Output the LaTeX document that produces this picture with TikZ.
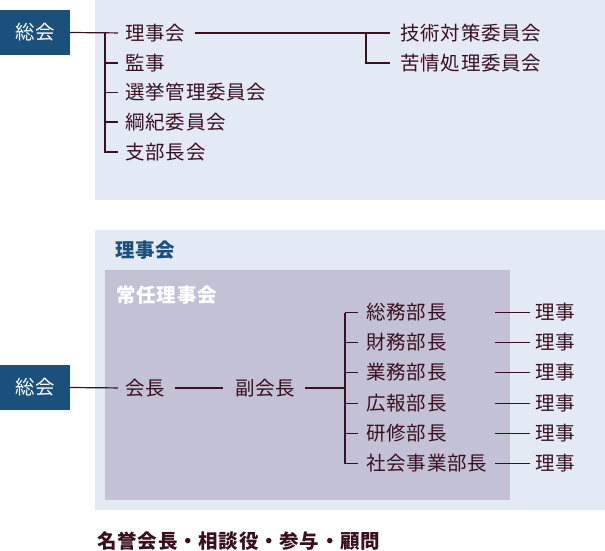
\documentclass[tikz,border=0pt]{standalone}
\usepackage{fontspec}
\setmainfont{Noto Sans CJK JP}[LetterSpace=4]
\definecolor{paneblue}{HTML}{E3EAF6}
\definecolor{panegray}{HTML}{C3C1D6}
\definecolor{boxblue}{HTML}{1B4F7C}
\definecolor{ink}{HTML}{3A1020}
\begin{document}
\begin{tikzpicture}[x=1pt,y=-1pt,
  lbl/.style={anchor=west,inner sep=0pt,text=ink,font=\fontsize{19.5}{22}\selectfont},
  hdr/.style={anchor=west,inner sep=0pt,font=\fontsize{19.5}{22}\selectfont\bfseries},
  sbox/.style={fill=boxblue,text=white,minimum width=70pt,minimum height=45pt,inner sep=0pt,font=\fontsize{19.5}{22}\selectfont},
  ln/.style={draw=ink,line width=1.2pt}]
\useasboundingbox (0,0) rectangle (605,551);
% panels
\fill[paneblue] (95,0) rectangle (605,200);
\fill[paneblue] (95,230) rectangle (605,510);
\fill[panegray] (105,270) rectangle (510,500);
% top diagram
\node[sbox] (s1) at (35,32.5) {総会};
\node[lbl] (a1) at (125,33) {理事会};
\node[lbl] (a2) at (125,63) {監事};
\node[lbl] (a3) at (125,92.5) {選挙管理委員会};
\node[lbl] (a4) at (125,122) {綱紀委員会};
\node[lbl] (a5) at (125,152) {支部長会};
\node[lbl] (b1) at (400,33) {技術対策委員会};
\node[lbl] (b2) at (400,63) {苦情処理委員会};
\coordinate (v1) at (105,33);
\draw[ln,shorten >=7pt] (s1.east) -- (a1.west);
\draw[ln,shorten >=7pt] (v1) |- (a5.west);
\foreach \n in {a2,a3,a4} \draw[ln,shorten >=7pt] (v1 |- \n.west) -- (\n.west);
\coordinate (v2) at (366,33);
\draw[ln,shorten <=10pt,shorten >=10pt] (a1.east) -- (b1.west);
\draw[ln,shorten >=10pt] (v2) |- (b2.west);
% bottom diagram
\node[hdr,text=boxblue] (h1) at (115,250) {理事会};
\node[hdr,text=white] (h2) at (116,295) {常任理事会};
\node[sbox] (s2) at (35,387.5) {総会};
\node[lbl] (c1) at (125,388) {会長};
\node[lbl] (c2) at (235,388) {副会長};
\draw[ln,shorten >=7pt] (s2.east) -- (c1.west);
\draw[ln,shorten <=10pt,shorten >=12pt] (c1.east) -- (c2.west);
\coordinate (v3) at (345,388);
\draw[ln,shorten <=10pt] (c2.east) -- (v3);
\node[lbl] (d1) at (366,312.5) {総務部長};
\node[lbl] (d2) at (366,342.5) {財務部長};
\node[lbl] (d3) at (366,372.5) {業務部長};
\node[lbl] (d4) at (366,403.5) {広報部長};
\node[lbl] (d5) at (366,433.5) {研修部長};
\node[lbl] (d6) at (366,463.5) {社会事業部長};
\coordinate (vt) at (345,312.5);
\coordinate (vb) at (345,463.5);
\draw[ln,shorten >=8pt] (vt) -- (vb) -- (d6.west);
\draw[ln,shorten >=8pt] (vt) -- (d1.west);
\foreach \n in {d2,d3,d4,d5} \draw[ln,shorten >=8pt] (vt |- \n.west) -- (\n.west);
\foreach \i/\y in {1/312.5,2/342.5,3/372.5,4/403.5,5/433.5,6/463.5}{
  \node[lbl] (e\i) at (535,\y) {理事};
  \coordinate (r\i) at (495,\y);
  \draw[ln,shorten >=5pt] (r\i) -- (e\i.west);
}
\node[hdr,text=ink] (f) at (97,541) {名誉会長・相談役・参与・顧問};
\end{tikzpicture}
\end{document}
